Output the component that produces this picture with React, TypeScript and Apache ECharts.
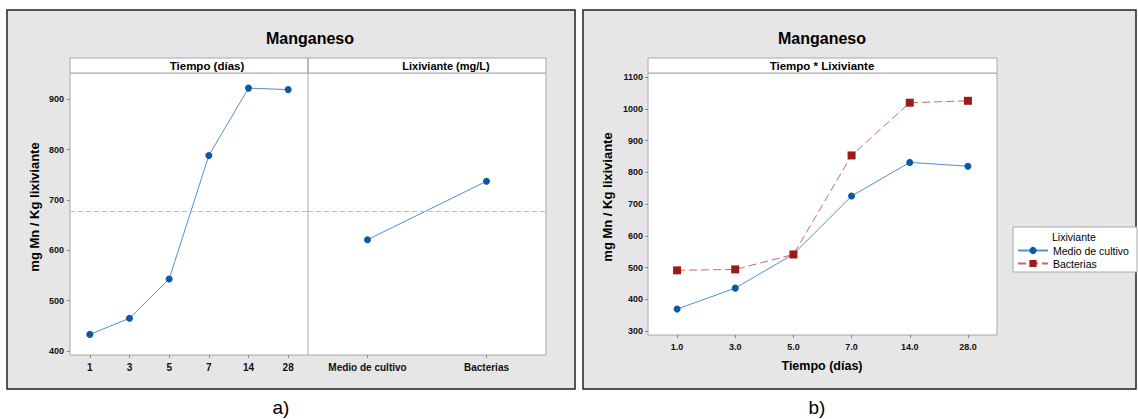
import React, { useEffect, useRef } from "react";
import * as echarts from "echarts";

const tiempoCats = ["1", "3", "5", "7", "14", "28"];
const tiempoMeans = [433, 465, 543, 788, 922, 919];
const lixCats = ["Medio de cultivo", "Bacterias"];
const lixMeans = [621, 737];
const tiempoCatsB = ["1.0", "3.0", "5.0", "7.0", "14.0", "28.0"];
const medioCultivo = [369, 435, 542, 725, 831, 819];
const bacterias = [491, 494, 541, 853, 1019, 1025];

const FONT = "'Liberation Sans', Arial, sans-serif";
const BLUE_M = "#0b57a8";
const BLUE_L = "#4f8fd6";
const RED_M = "#9b1a1a";
const RED_L = "#c76a6a";

export default function App() {
  const ref = useRef<HTMLDivElement>(null);
  useEffect(() => {
    if (!ref.current) return;
    const chart = echarts.init(ref.current, null, { renderer: "svg" });
    const grand = tiempoMeans.reduce((a, b) => a + b, 0) / tiempoMeans.length;
    const tickLabel = { fontFamily: FONT, fontSize: 9, fontWeight: "bold" as const, color: "#111" };
    const axTick = { show: true, length: 3, lineStyle: { color: "#888" } };
    const meanLine = {
      symbol: "none",
      silent: true,
      label: { show: false },
      lineStyle: { color: "#bdbdbd", type: [5, 3], width: 1 },
      data: [{ yAxis: grand }],
    };
    const bg = (x: number, y: number, w: number, h: number, fill: string, stroke: string, lw = 1) => ({
      type: "rect",
      z: -10,
      shape: { x, y, width: w, height: h },
      style: { fill, stroke, lineWidth: lw },
    });
    const txt = (x: number, y: number, text: string, size: number, weight = "bold", rot = 0, align = "center") => ({
      type: "text",
      z: 100,
      x,
      y,
      rotation: rot,
      style: { text, fontFamily: FONT, fontSize: size, fontWeight: weight, fill: "#000", align, verticalAlign: "middle" },
    });
    chart.setOption({
      animation: false,
      backgroundColor: "#fff",
      graphic: [
        bg(7, 10, 568, 379, "#e6e6e6", "#222", 1.5),
        bg(583, 10, 553, 379, "#e6e6e6", "#222", 1.5),
        bg(70, 73, 476, 282, "#fff", "#a8a8a8"),
        bg(70, 58, 238, 15, "#fff", "#a8a8a8"),
        bg(308, 58, 238, 15, "#fff", "#a8a8a8"),
        { type: "line", z: -9, shape: { x1: 308, y1: 58, x2: 308, y2: 355 }, style: { stroke: "#a8a8a8", lineWidth: 1 } },
        bg(648, 73, 349, 262, "#fff", "#a8a8a8"),
        bg(648, 58, 349, 15, "#fff", "#a8a8a8"),
        bg(1013, 227, 124, 45, "#fff", "#a8a8a8"),
        txt(310, 38, "Manganeso", 16),
        txt(822, 38, "Manganeso", 16),
        txt(207, 66, "Tiempo (días)", 11.5),
        txt(446, 66, "Lixiviante (mg/L)", 11),
        txt(822, 66, "Tiempo * Lixiviante", 11.5),
        txt(34, 207, "mg Mn / Kg lixiviante", 13, "bold", Math.PI / 2),
        txt(607, 197, "mg Mn / Kg lixiviante", 13, "bold", Math.PI / 2),
        txt(822, 366, "Tiempo (días)", 12.5),
        txt(1052, 237, "Lixiviante", 10.5, "normal", 0, "left"),
        txt(281, 407, "a)", 19, "normal"),
        txt(817, 407, "b)", 19, "normal"),
      ],
      grid: [
        { left: 70, top: 74, width: 238, height: 277 },
        { left: 308, top: 74, width: 238, height: 277 },
        { left: 648, top: 77, width: 349, height: 254 },
      ],
      xAxis: [
        { type: "category", gridIndex: 0, data: tiempoCats, offset: 4, axisLine: { show: false }, axisTick: { ...axTick, alignWithLabel: true }, axisLabel: { ...tickLabel, fontSize: 10, margin: 7 } },
        { type: "category", gridIndex: 1, data: lixCats, offset: 4, axisLine: { show: false }, axisTick: { ...axTick, alignWithLabel: true }, axisLabel: { ...tickLabel, fontSize: 10, margin: 7 } },
        { type: "category", gridIndex: 2, data: tiempoCatsB, offset: 4, axisLine: { show: false }, axisTick: { ...axTick, alignWithLabel: true }, axisLabel: { ...tickLabel, margin: 7 } },
      ],
      yAxis: [
        { type: "value", gridIndex: 0, min: 400, max: 950, interval: 100, axisLine: { show: false }, splitLine: { show: false }, axisTick: axTick, axisLabel: { ...tickLabel, margin: 6, showMaxLabel: false, formatter: (v: number) => String(v) } },
        { type: "value", gridIndex: 1, min: 400, max: 950, interval: 100, show: false, splitLine: { show: false } },
        { type: "value", gridIndex: 2, min: 300, max: 1100, interval: 100, axisLine: { show: false }, splitLine: { show: false }, axisTick: axTick, axisLabel: { ...tickLabel, margin: 5, formatter: (v: number) => String(v) } },
      ],
      legend: {
        orient: "vertical",
        left: 1017,
        top: 245,
        itemWidth: 30,
        itemHeight: 9,
        itemGap: 2,
        padding: 0,
        data: ["Medio de cultivo", "Bacterias"],
        textStyle: { fontFamily: FONT, fontSize: 10.5, color: "#000" },
      },
      series: [
        {
          type: "line", xAxisIndex: 0, yAxisIndex: 0, data: tiempoMeans, symbol: "circle", symbolSize: 7,
          itemStyle: { color: BLUE_M }, lineStyle: { color: BLUE_L, width: 1 }, markLine: meanLine,
        },
        {
          type: "line", xAxisIndex: 1, yAxisIndex: 1, data: lixMeans, symbol: "circle", symbolSize: 7,
          itemStyle: { color: BLUE_M }, lineStyle: { color: BLUE_L, width: 1 }, markLine: meanLine,
        },
        {
          name: "Medio de cultivo", type: "line", xAxisIndex: 2, yAxisIndex: 2, data: medioCultivo, symbol: "circle", symbolSize: 7,
          itemStyle: { color: BLUE_M }, lineStyle: { color: BLUE_L, width: 1 },
        },
        {
          name: "Bacterias", type: "line", xAxisIndex: 2, yAxisIndex: 2, data: bacterias, symbol: "rect", symbolSize: 8,
          itemStyle: { color: RED_M }, lineStyle: { color: RED_L, width: 1, type: [8, 4] },
        },
      ],
    });
    return () => chart.dispose();
  }, []);
  return <div ref={ref} style={{ position: "absolute", left: 0, top: 0, width: 1138, height: 419 }} />;
}
